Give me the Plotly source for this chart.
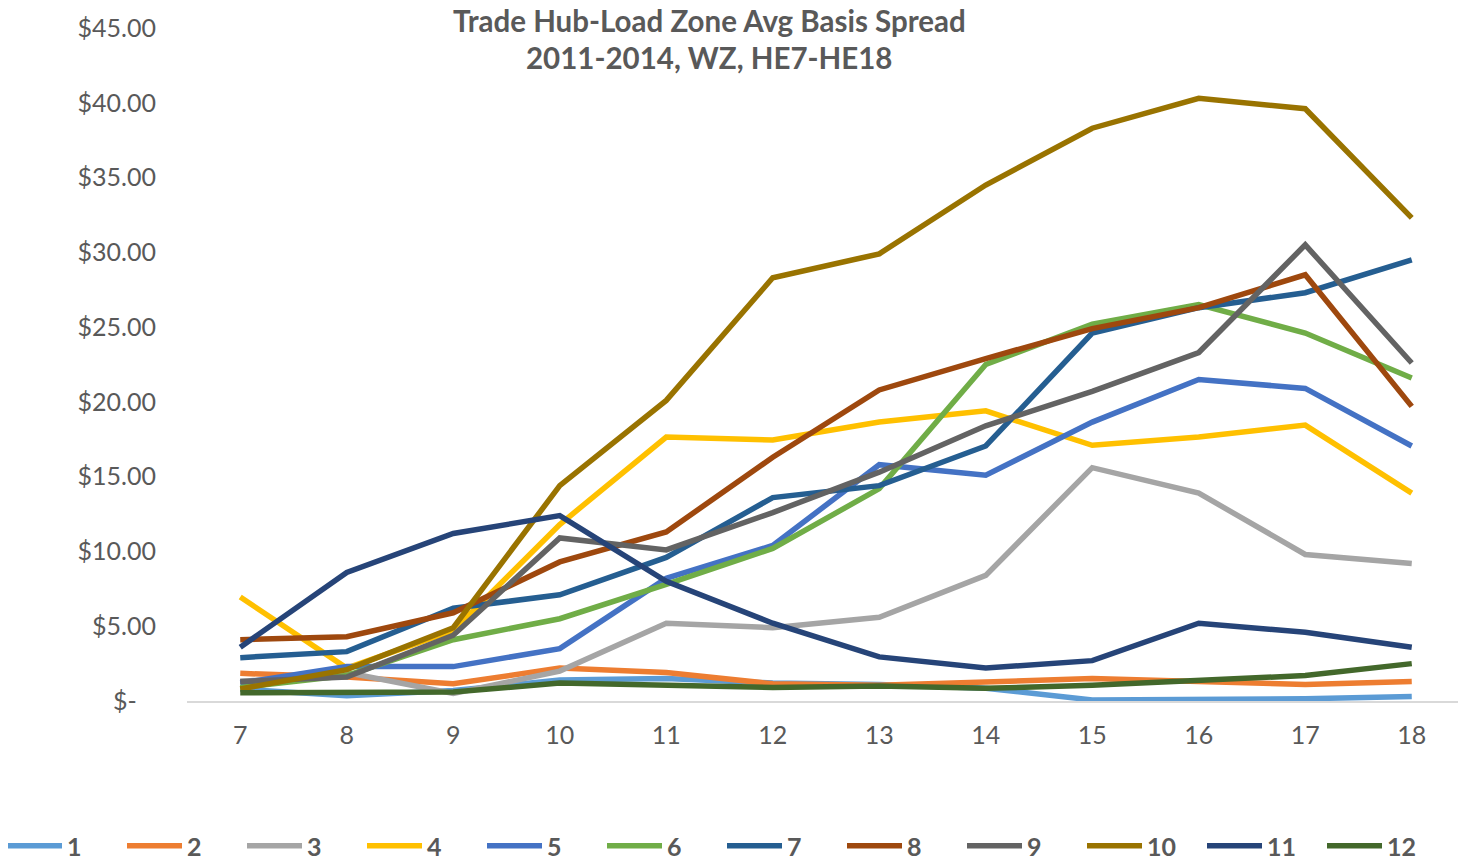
import plotly.graph_objects as go

hours = [7, 8, 9, 10, 11, 12, 13, 14, 15, 16, 17, 18]

s1 = [0.8, 0.35, 0.7, 1.4, 1.5, 1.2, 1.1, 0.85, 0.07, 0.07, 0.15, 0.3]
s2 = [1.85, 1.6, 1.15, 2.2, 1.9, 1.15, 1.05, 1.25, 1.5, 1.3, 1.1, 1.3]
s3 = [1.3, 1.9, 0.5, 2.0, 5.2, 4.9, 5.6, 8.4, 15.6, 13.9, 9.8, 9.2]
s4 = [6.95, 2.2, 4.7, 11.8, 17.65, 17.45, 18.65, 19.4, 17.1, 17.65, 18.45, 13.9]
s5 = [1.2, 2.3, 2.3, 3.5, 8.2, 10.4, 15.8, 15.1, 18.65, 21.5, 20.9, 17.05]
s6 = [0.9, 1.7, 4.1, 5.5, 7.8, 10.2, 14.2, 22.5, 25.2, 26.5, 24.6, 21.6]
s7 = [2.9, 3.3, 6.2, 7.1, 9.6, 13.6, 14.4, 17.05, 24.6, 26.3, 27.3, 29.5]
s8 = [4.1, 4.3, 5.9, 9.3, 11.3, 16.3, 20.8, 22.9, 24.9, 26.3, 28.5, 19.7]
s9 = [1.3, 1.6, 4.4, 10.9, 10.1, 12.6, 15.3, 18.4, 20.7, 23.3, 30.5, 22.6]
s10 = [0.8, 2.1, 4.9, 14.4, 20.1, 28.3, 29.9, 34.5, 38.3, 40.3, 39.6, 32.3]
s11 = [3.6, 8.6, 11.2, 12.4, 8.0, 5.2, 2.95, 2.2, 2.7, 5.2, 4.6, 3.6]
s12 = [0.55, 0.6, 0.6, 1.2, 1.05, 0.9, 1.0, 0.85, 1.05, 1.35, 1.7, 2.5]

series = [s1, s2, s3, s4, s5, s6, s7, s8, s9, s10, s11, s12]
names = ["1", "2", "3", "4", "5", "6", "7", "8", "9", "10", "11", "12"]
colors = ["#5B9BD5", "#ED7D31", "#A5A5A5", "#FFC000", "#4472C4", "#70AD47",
          "#255E91", "#9E480E", "#636363", "#997300", "#264478", "#43682B"]

y_ticks = [0, 5, 10, 15, 20, 25, 30, 35, 40, 45]
y_labels = ["$-   ", "$5.00", "$10.00", "$15.00", "$20.00", "$25.00",
            "$30.00", "$35.00", "$40.00", "$45.00"]

title_lines = ["Trade Hub-Load Zone Avg Basis Spread", "2011-2014, WZ, HE7-HE18"]

FONT = "Lato, Open Sans, sans-serif"
GREY = "#595959"

# the page body has an 8px margin, so the figure is made 8px smaller
W, H = 1458, 852
L, T, B = 179, 20, 159
plot_w = W - L - 1
plot_h = H - T - B

fig = go.Figure()
for name, vals, col in zip(names, series, colors):
    fig.add_trace(go.Scatter(
        x=hours, y=vals, name=name, mode="lines",
        line=dict(color=col, width=5.5),
    ))

# title as two annotations so each line lands where it should
for txt, ypix in zip(title_lines, [12, 50]):
    fig.add_annotation(
        text="<b>" + txt + "</b>", showarrow=False,
        xref="paper", x=(701 - L) / plot_w, xanchor="center",
        yref="paper", y=(H - B - ypix) / plot_h, yanchor="middle",
        font=dict(family=FONT, size=29.5, color=GREY),
    )

fig.update_layout(
    width=W,
    height=H,
    plot_bgcolor="white",
    paper_bgcolor="white",
    margin=dict(l=L, r=1, t=T, b=B, pad=0, autoexpand=False),
    font=dict(family=FONT, color=GREY),
    xaxis=dict(
        type="linear", range=[6.5, 18.5], tickvals=hours,
        showgrid=False, zeroline=False, showline=True,
        linecolor="#D9D9D9", linewidth=1.5, automargin=False,
        tickfont=dict(size=25, color=GREY),
        ticks="outside", ticklen=11, tickcolor="rgba(0,0,0,0)",
    ),
    yaxis=dict(
        range=[0, 45], tickvals=y_ticks, ticktext=y_labels,
        showgrid=False, zeroline=False, showline=False, automargin=False,
        tickfont=dict(size=25, color=GREY),
        ticks="outside", ticklen=25, tickcolor="rgba(0,0,0,0)",
    ),
    legend=dict(
        orientation="h", x=(-L - 6) / plot_w, xanchor="left",
        y=-(838 - (H - B)) / plot_h, yanchor="middle",
        itemwidth=55,
        entrywidth=50, entrywidthmode="pixels",
        font=dict(size=25, color=GREY, family=FONT, weight="bold"),
        traceorder="normal",
    ),
)

fig.write_html("out.html")
